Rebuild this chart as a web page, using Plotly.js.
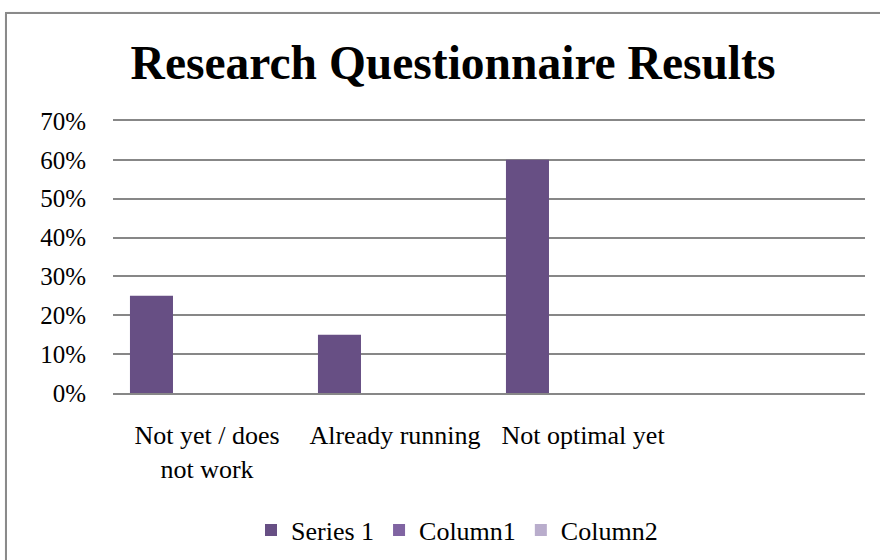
<!DOCTYPE html>
<html>
<head>
<meta charset="utf-8">
<script src="https://cdn.plot.ly/plotly-3.0.1.min.js"></script>
<style>
html,body{margin:0;padding:0;background:#fff;overflow:hidden;}
#frame{position:absolute;left:5px;top:12px;width:900px;height:600px;border:2px solid #8a8a8a;box-shadow:1px 1px 2px #bbb;}
#chart{position:absolute;left:0;top:0;width:880px;height:560px;}
</style>
</head>
<body>
<div id="frame"></div>
<div id="chart"></div>
<script>
var categories = ["Not yet / does<br>not work", "Already running", "Not optimal yet", " "];
var series1 = [0.25, 0.15, 0.60, null];
var column1 = [null, null, null, null];
var column2 = [null, null, null, null];
var tickValues = [0, 0.1, 0.2, 0.3, 0.4, 0.5, 0.6, 0.7];
var tickLabels = ["0%", "10%", "20%", "30%", "40%", "50%", "60%", "70%"];

var font = "'Liberation Serif', 'Times New Roman', serif";
var traces = [
  {type:"bar", name:"Series 1", x:categories, y:series1, marker:{color:"#674f84"}},
  {type:"bar", name:"Column1", x:categories, y:column1, marker:{color:"#8064a2"}},
  {type:"bar", name:"Column2", x:categories, y:column2, marker:{color:"#b9adcc"}}
];
var layout = {
  width:880, height:560,
  paper_bgcolor:"rgba(0,0,0,0)", plot_bgcolor:"rgba(0,0,0,0)",
  margin:{l:113, r:15, t:121, b:167},
  barmode:"group", bargap:0.114, bargroupgap:0.225,
  font:{family:font, color:"#000", size:25},
  title:{text:"<b>Research Questionnaire Results</b>", font:{family:font, size:47.5, color:"#000"},
         x:453/880, xref:"container", xanchor:"center", y:1-62/560, yref:"container", yanchor:"middle"},
  xaxis:{type:"category", showgrid:false, showline:true, mirror:true, linecolor:"#878787", linewidth:2,
         zeroline:false, ticks:"",
         tickfont:{family:font, size:26, color:"#000"}, ticklabelstandoff:18, fixedrange:true},
  yaxis:{range:[0,0.7], tickvals:tickValues, ticktext:tickLabels, showgrid:true,
         gridcolor:"#878787", gridwidth:2, zeroline:false,
         showline:false, ticks:"", tickfont:{family:font, size:25, color:"#000"}, ticklabelstandoff:26, fixedrange:true},
  showlegend:true,
  legend:{orientation:"h", xref:"container", yref:"container", x:457/880, xanchor:"center",
          y:1-530/560, yanchor:"middle", font:{family:font, size:26, color:"#000"},
          itemwidth:30, traceorder:"normal"}
};
Plotly.newPlot("chart", traces, layout, {staticPlot:true});
</script>
</body>
</html>
